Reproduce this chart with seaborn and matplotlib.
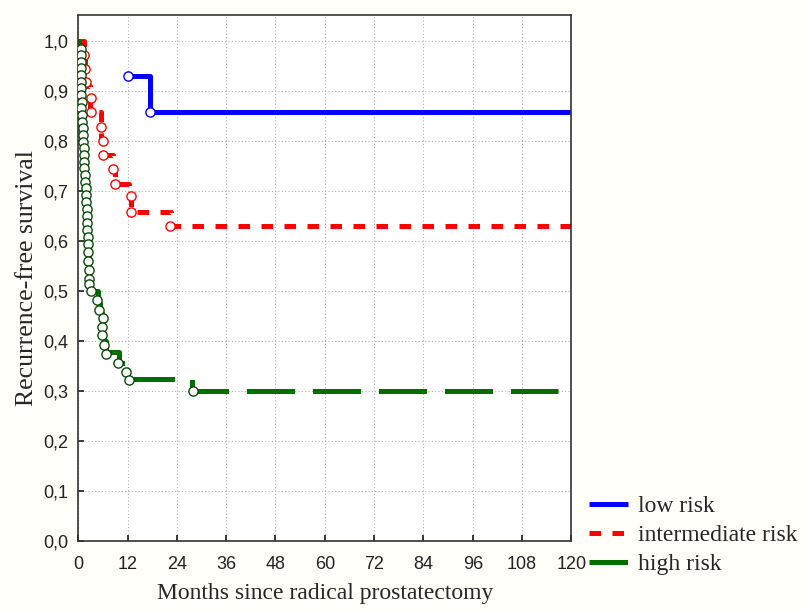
"""
Kaplan-Meier style recurrence-free survival by risk group.
Output: out.png
"""

import matplotlib.pyplot as plt
import seaborn as sns
from matplotlib.ticker import FuncFormatter, MultipleLocator

# Step curves (months, survival)
LOW_T = [12.2, 17.5, 120.0]
LOW_S = [0.929, 0.858, 0.858]
LOW_CENS_T = [12.2, 17.5]
LOW_CENS_S = [0.929, 0.858]

MID_T = [0.0, 1.3, 1.6, 1.9, 2.9, 5.6, 6.0, 8.4, 8.9, 12.4, 12.8, 22.6, 120.0]
MID_S = [1.0, 0.97, 0.94, 0.91, 0.858, 0.80, 0.772, 0.744, 0.714, 0.689, 0.657, 0.63, 0.63]
MID_CENS_T = [1.5, 1.7, 1.8, 3.2, 3.0, 5.5, 6.0, 6.0, 8.5, 8.9, 12.8, 12.8, 22.4]
MID_CENS_S = [0.972, 0.944, 0.918, 0.886, 0.858, 0.827, 0.800, 0.772, 0.744, 0.714, 0.689, 0.657, 0.630]

HIGH_T = [0.0, 0.3, 0.6, 0.9, 1.2, 1.5, 1.8, 2.1, 2.4, 2.7, 3.0, 4.9, 5.3, 5.8, 6.3, 6.8,
          10.0, 11.5, 12.4, 27.6, 116.8]
HIGH_S = [1.0, 0.96, 0.90, 0.84, 0.79, 0.74, 0.69, 0.64, 0.59, 0.54, 0.50, 0.475, 0.455, 0.43,
          0.40, 0.377, 0.355, 0.338, 0.323, 0.30, 0.30]
HIGH_CENS_T = [0.6, 0.6, 0.7, 0.6, 0.7, 0.8, 0.7, 0.8, 0.9, 0.8, 0.9, 1.0, 1.1, 1.1, 1.2, 1.3,
               1.4, 1.4, 1.5, 1.6, 1.7, 1.8, 1.9, 2.0, 2.1, 2.1, 2.2, 2.2, 2.3, 2.4, 2.4, 2.5,
               2.6, 2.6, 2.6, 3.0, 4.6, 5.1, 6.0, 5.9, 5.9, 6.4, 6.8, 9.8, 11.6, 12.4, 27.9]
HIGH_CENS_S = [0.984, 0.972, 0.958, 0.946, 0.932, 0.918, 0.906, 0.892, 0.878, 0.866, 0.852,
               0.838, 0.826, 0.812, 0.798, 0.786, 0.772, 0.758, 0.746, 0.732, 0.718, 0.706,
               0.692, 0.678, 0.664, 0.650, 0.636, 0.622, 0.608, 0.594, 0.578, 0.560, 0.542,
               0.524, 0.514, 0.500, 0.482, 0.462, 0.446, 0.428, 0.412, 0.392, 0.374, 0.356,
               0.338, 0.322, 0.300]

GROUPS = ["low risk", "intermediate risk", "high risk"]
BLUE, RED, GREEN = "#0000ff", "#ff0000", "#006e00"
SERIF = ["Liberation Serif", "DejaVu Serif"]

sns.set_theme(style="white")
plt.rcParams["font.family"] = ["Liberation Sans Narrow", "Liberation Sans", "DejaVu Sans"]

fig = plt.figure(figsize=(8.06, 6.10), dpi=100, facecolor="#fffef9")
ax = fig.add_axes([0.097, 0.113, 0.612, 0.863])
ax.set_facecolor("white")

LW = 3.6
ms = 44

# low risk
sns.lineplot(x=LOW_T, y=LOW_S, ax=ax, color=BLUE, lw=LW, drawstyle="steps-post",
             estimator=None, sort=False, label=GROUPS[0], solid_capstyle="butt")
sns.scatterplot(x=LOW_CENS_T, y=LOW_CENS_S, ax=ax, marker="o", s=ms, facecolor="white",
                edgecolor=BLUE, linewidth=1, zorder=5)

# intermediate risk
sns.lineplot(x=MID_T, y=MID_S, ax=ax, color=RED, lw=LW, drawstyle="steps-post",
             estimator=None, sort=False, label=GROUPS[1],
             linestyle=(0, (2.3, 2.3)))
sns.scatterplot(x=MID_CENS_T, y=MID_CENS_S, ax=ax, marker="o", s=ms, facecolor="white",
                edgecolor=RED, linewidth=1, zorder=5)

# high risk
sns.lineplot(x=HIGH_T, y=HIGH_S, ax=ax, color=GREEN, lw=LW, drawstyle="steps-post",
             estimator=None, sort=False, label=GROUPS[2],
             linestyle=(1.9, (9.6, 3.6)))
sns.scatterplot(x=HIGH_CENS_T, y=HIGH_CENS_S, ax=ax, marker="o", s=ms, facecolor="white",
                edgecolor="#0a4a0a", linewidth=1, zorder=6)

ax.set_xlim(0, 120)
ax.set_ylim(0, 1.052)
ax.xaxis.set_major_locator(MultipleLocator(12))
ax.yaxis.set_major_locator(MultipleLocator(0.1))
ax.yaxis.set_major_formatter(FuncFormatter(lambda v, p: f"{v:.1f}".replace(".", ",")))
ax.grid(True, color="#b0b0b0", linestyle=(0, (1, 2)), linewidth=0.8)
ax.tick_params(axis="both", direction="in", length=4, labelsize=13, colors="#222222",
               bottom=True, left=True)
ax.tick_params(axis="x", pad=11)
ax.tick_params(axis="y", pad=7)
for s in ax.spines.values():
    s.set_color("#333333")
    s.set_linewidth(1.2)

ax.set_xlabel("Months since radical prostatectomy", family=SERIF, fontsize=17, labelpad=7)
ax.set_ylabel("Recurrence-free survival", family=SERIF, fontsize=18.5, labelpad=4)

handles, labels = ax.get_legend_handles_labels()
ax.legend_.remove()
fig.legend(handles, labels, loc="center left", bbox_to_anchor=(0.705, 0.122), frameon=False,
           prop={"family": SERIF, "size": 17},
           handlelength=1.65, handletextpad=0.4, labelspacing=0.32)

fig.savefig("out.png", dpi=100, facecolor=fig.get_facecolor())
